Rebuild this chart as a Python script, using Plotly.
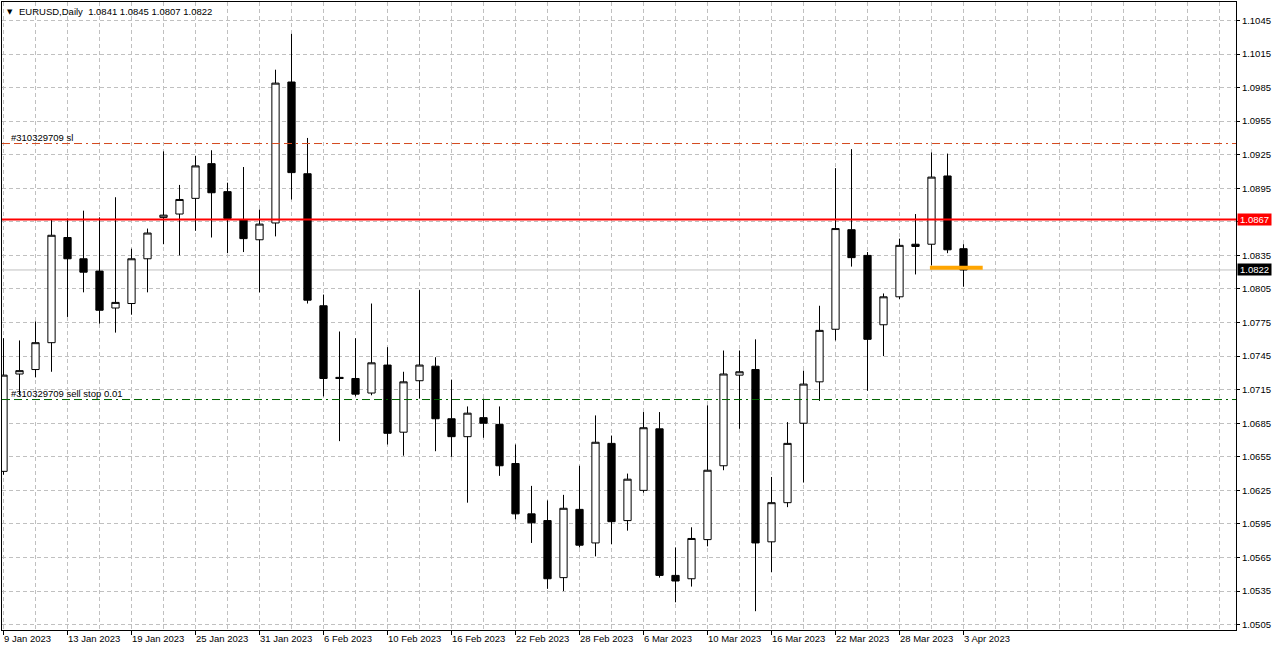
import plotly.graph_objects as go
import pandas as pd

# ---------------- data ----------------
symbol = "EURUSD,Daily"
dates = pd.bdate_range("2023-01-09", "2023-04-03")

opens = [1.0642, 1.0729, 1.0733, 1.0757, 1.0851, 1.0832, 1.0821, 1.0788, 1.0792, 1.0832,
         1.0869, 1.0872, 1.0886, 1.0917, 1.0892, 1.0867, 1.0849, 1.0864, 1.0990, 1.0908,
         1.0790, 1.0726, 1.0725, 1.0712, 1.0737, 1.0677, 1.0723, 1.0736, 1.0689, 1.0673,
         1.0690, 1.0684, 1.0649, 1.0604, 1.0598, 1.0547, 1.0608, 1.0578, 1.0667, 1.0598,
         1.0625, 1.0680, 1.0549, 1.0546, 1.0581, 1.0647, 1.0728, 1.0733, 1.0579, 1.0614,
         1.0685, 1.0722, 1.0769, 1.0858, 1.0835, 1.0773, 1.0798, 1.0845, 1.0845, 1.0906,
         1.0841]
highs = [1.0761, 1.0759, 1.0776, 1.0867, 1.0868, 1.0875, 1.0869, 1.0887, 1.0841, 1.0859,
         1.0928, 1.0898, 1.0924, 1.0929, 1.0900, 1.0914, 1.0876, 1.1001, 1.1033, 1.0940,
         1.0800, 1.0767, 1.0761, 1.0792, 1.0753, 1.0731, 1.0804, 1.0744, 1.0724, 1.0700,
         1.0707, 1.0700, 1.0666, 1.0629, 1.0616, 1.0621, 1.0647, 1.0692, 1.0674, 1.0640,
         1.0695, 1.0695, 1.0574, 1.0592, 1.0701, 1.0750, 1.0750, 1.0760, 1.0637, 1.0686,
         1.0732, 1.0790, 1.0913, 1.0930, 1.0838, 1.0801, 1.0850, 1.0872, 1.0927, 1.0926,
         1.0845]
lows = [1.0639, 1.0710, 1.0726, 1.0731, 1.0780, 1.0802, 1.0774, 1.0766, 1.0782, 1.0802,
        1.0845, 1.0835, 1.0857, 1.0851, 1.0837, 1.0838, 1.0802, 1.0852, 1.0885, 1.0792,
        1.0709, 1.0669, 1.0709, 1.0710, 1.0666, 1.0656, 1.0707, 1.0660, 1.0655, 1.0614,
        1.0672, 1.0638, 1.0599, 1.0578, 1.0537, 1.0535, 1.0574, 1.0566, 1.0577, 1.0589,
        1.0623, 1.0547, 1.0525, 1.0539, 1.0575, 1.0643, 1.0680, 1.0517, 1.0552, 1.0610,
        1.0632, 1.0705, 1.0759, 1.0825, 1.0714, 1.0745, 1.0796, 1.0818, 1.0826, 1.0837,
        1.0807]
closes = [1.0728, 1.0732, 1.0757, 1.0853, 1.0832, 1.0820, 1.0786, 1.0793, 1.0832, 1.0855,
          1.0871, 1.0885, 1.0915, 1.0891, 1.0868, 1.0850, 1.0863, 1.0989, 1.0909, 1.0795,
          1.0725, 1.0725, 1.0711, 1.0739, 1.0676, 1.0722, 1.0737, 1.0689, 1.0673, 1.0694,
          1.0685, 1.0647, 1.0604, 1.0596, 1.0546, 1.0609, 1.0576, 1.0668, 1.0597, 1.0635,
          1.0681, 1.0549, 1.0544, 1.0582, 1.0643, 1.0729, 1.0731, 1.0578, 1.0614, 1.0667,
          1.0720, 1.0768, 1.0859, 1.0833, 1.0760, 1.0798, 1.0844, 1.0843, 1.0905, 1.0840,
          1.0822]

alert_level = 1.0867
sl_level = 1.0935
sl_label = "#310329709 sl"
stop_level = 1.07062
stop_label = "#310329709 sell stop 0.01"
seg_x = [57.9, 61.2]
seg_y = [1.0824, 1.0824]

y_ticks = [round(1.0505 + 0.003 * k, 4) for k in range(19)]
y_ticktext = [f"{v:.4f}" for v in y_ticks]
x_label_idx = list(range(0, len(dates), 4))
x_labels = [f"{dates[i].day} {dates[i]:%b %Y}" for i in x_label_idx]

# ---------------- figure ----------------
idx = list(range(len(dates)))
FONT = "Liberation Sans"
GRID = "#C0C0C0"
X_RANGE = [-0.09375, 77.03125]
Y_RANGE = [1.05002, 1.10615]
DASHDOT = "8px,4px,8px,4px,2px,4px"

fig = go.Figure()
fig.add_trace(go.Candlestick(
    x=idx, open=opens, high=highs, low=lows, close=closes,
    increasing=dict(line=dict(color="black", width=1), fillcolor="white"),
    decreasing=dict(line=dict(color="black", width=1), fillcolor="black"),
    whiskerwidth=0, showlegend=False, hoverinfo="skip"))
fig.add_trace(go.Scatter(x=seg_x, y=seg_y, mode="lines",
                         line=dict(color="#FFA500", width=4),
                         showlegend=False, hoverinfo="skip"))
fig.add_trace(go.Scatter(x=[0], y=[closes[-1]], xaxis="x2", mode="markers",
                         marker=dict(opacity=0), showlegend=False, hoverinfo="skip"))

fig.update_layout(
    width=1276, height=651,
    margin=dict(l=2, r=40, t=2, b=21),
    paper_bgcolor="white", plot_bgcolor="white",
    font=dict(family=FONT, size=9.5, color="black"),
    boxgap=0.35,
    xaxis=dict(range=X_RANGE, tickmode="linear", tick0=0, dtick=2,
               showgrid=True, gridcolor=GRID, gridwidth=1, griddash="4px,3px",
               showticklabels=False, ticks="", zeroline=False,
               showline=True, linecolor="black", linewidth=1, mirror=True,
               rangeslider=dict(visible=False)),
    xaxis2=dict(range=X_RANGE, overlaying="x", side="bottom", anchor="y",
                tickmode="array", tickvals=x_label_idx, ticktext=x_labels,
                ticks="outside", ticklen=4, tickcolor="black",
                ticklabelposition="outside right",
                tickfont=dict(family=FONT, size=9.5, color="black"),
                showgrid=False, zeroline=False, showline=False),
    yaxis=dict(range=Y_RANGE, side="right", tickmode="array",
               tickvals=y_ticks, ticktext=y_ticktext,
               ticks="outside", ticklen=3, tickcolor="black",
               tickfont=dict(family=FONT, size=9.5, color="black"),
               showgrid=True, gridcolor=GRID, gridwidth=1, griddash="4px,3px",
               zeroline=False, showline=True, linecolor="black", linewidth=1,
               mirror=True),
)

shapes = [
    dict(type="line", xref="paper", x0=0, x1=1, yref="y", y0=closes[-1], y1=closes[-1],
         line=dict(color="#C0C0C0", width=1), layer="below"),
    dict(type="line", xref="paper", x0=0, x1=1, yref="y", y0=alert_level, y1=alert_level,
         line=dict(color="#FF0000", width=2), layer="above"),
    dict(type="line", xref="paper", x0=0, x1=1, yref="y", y0=sl_level, y1=sl_level,
         line=dict(color="#D44A1E", width=1, dash=DASHDOT), layer="above"),
    dict(type="line", xref="paper", x0=0, x1=1, yref="y", y0=stop_level, y1=stop_level,
         line=dict(color="#006400", width=1, dash=DASHDOT), layer="above"),
]
fig.update_layout(shapes=shapes)

header = f"{symbol}&nbsp;&nbsp;{opens[-1]:.4f} {highs[-1]:.4f} {lows[-1]:.4f} {closes[-1]:.4f}"
annotations = [
    dict(text="▼", xref="paper", yref="paper", x=0, y=1, xanchor="left", yanchor="top",
         xshift=3, yshift=-4, showarrow=False, font=dict(family="DejaVu Sans", size=7, color="black")),
    dict(text=header, xref="paper", yref="paper", x=0, y=1, xanchor="left", yanchor="top",
         xshift=15, yshift=-2, showarrow=False, font=dict(family=FONT, size=9.5, color="black")),
    dict(text=sl_label, xref="paper", yref="y", x=0, y=sl_level, xanchor="left", yanchor="bottom",
         xshift=7, yshift=-1, showarrow=False, font=dict(family=FONT, size=9.5, color="black")),
    dict(text=stop_label, xref="paper", yref="y", x=0, y=stop_level, xanchor="left", yanchor="bottom",
         xshift=7, yshift=-1, showarrow=False, font=dict(family=FONT, size=9.5, color="black")),
    dict(text=f"{alert_level:.4f}", xref="paper", yref="y", x=1, y=alert_level,
         xanchor="left", yanchor="middle", xshift=1, showarrow=False,
         bgcolor="#FF0000", width=33, height=11, borderpad=0,
         font=dict(family=FONT, size=9.5, color="white")),
    dict(text=f"{closes[-1]:.4f}", xref="paper", yref="y", x=1, y=closes[-1],
         xanchor="left", yanchor="middle", xshift=1, showarrow=False,
         bgcolor="#000000", width=33, height=11, borderpad=0,
         font=dict(family=FONT, size=9.5, color="white")),
]
fig.update_layout(annotations=annotations)

fig.write_html("out.html")
